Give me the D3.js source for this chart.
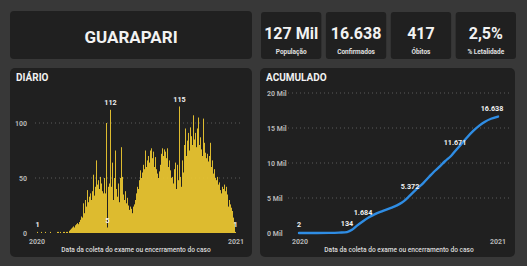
<!DOCTYPE html>
<html lang="pt">
<head>
<meta charset="UTF-8">
<title>Guarapari</title>
<style>
  body { margin: 0; padding: 0; background: #383838; }
  svg { display: block; font-family: Roboto, "DejaVu Sans", sans-serif; }
  .panel { fill: #202020; }
  .title { fill: #f2f2f2; font-weight: bold; }
  .tick-label { fill: #b5b5b5; font-size: 7px; font-weight: bold; }
  .data-label { fill: #f0f0f0; font-size: 7.2px; font-weight: bold; }
  .axis-title { fill: #dcdcdc; font-size: 6.6px; font-weight: 500; }
  .grid { stroke: #5a5a5a; stroke-dasharray: 1,3; }
</style>
</head>
<body>
<script src="https://cdn.jsdelivr.net/npm/d3@7/dist/d3.min.js"></script>
<script>
// KPI cards
var kpiValues = ['127 Mil', '16.638', '417', '2,5%'];
var kpiLabels = ['População', 'Confirmados', 'Óbitos', '% Letalidade'];

// daily new cases (one bar per sampled day, left to right)
var daily = [
  0, 1, 0, 0, 0, 1, 0, 0, 0, 1,
  0, 0, 0, 0, 1, 0, 0, 0, 0, 0,
  0, 1, 1, 0, 1, 0, 0, 1, 1, 0,
  1, 1, 0, 2, 3, 4, 5, 6, 5, 7,
  8, 9, 8, 10, 12, 15, 14, 27, 18, 30,
  24, 39, 28, 33, 36, 30, 38, 53, 34, 42,
  66, 44, 48, 40, 51, 45, 38, 36, 50, 36,
  100, 5, 42, 45, 112, 42, 64, 30, 50, 75,
  40, 33, 45, 28, 50, 78, 51, 35, 30, 38,
  27, 32, 25, 21, 24, 22, 18, 24, 26, 30,
  36, 42, 40, 48, 57, 50, 55, 62, 58, 75,
  60, 66, 70, 64, 75, 77, 68, 74, 60, 69,
  58, 54, 50, 56, 62, 72, 77, 70, 76, 74,
  68, 77, 60, 66, 57, 50, 51, 45, 58, 64,
  40, 62, 48, 115, 51, 42, 66, 55, 80, 95,
  70, 84, 91, 75, 96, 88, 80, 107, 85, 91,
  78, 95, 105, 80, 87, 76, 70, 104, 82, 73,
  68, 72, 65, 70, 82, 60, 66, 54, 58, 50,
  48, 51, 44, 46, 39, 36, 42, 40, 44, 38,
  42, 35, 24, 30, 26, 23, 20, 14, 10, 1
];
var dailyLabelIdx = [1, 71, 74, 143, 199];

// cumulative cases, [day index, total]
var cumDays = [0, 15, 30, 40, 48, 53, 58, 64, 70, 76, 84, 92, 98, 103, 107, 111, 117, 124, 130, 135, 140, 146, 152, 156, 162, 168, 174, 180, 186, 192, 199];
var cumValues = [2, 5, 20, 60, 134, 450, 1050, 1684, 2250, 2700, 3150, 3600, 3950, 4350, 4800, 5372, 6200, 7100, 8000, 8750, 9400, 10250, 11000, 11671, 12650, 13650, 14550, 15300, 15900, 16320, 16638];
var cumLabelIdx = [0, 4, 7, 15, 23, 30];

var dailyTicks = [0, 50, 100];
var cumTicks = [0, 5000, 10000, 15000, 20000];
var xLabels = ['2020', '2021'];
var xTitle = 'Data da coleta do exame ou encerramento do caso';

var svg = d3.select('body').append('svg')
  .attr('width', 527)
  .attr('height', 266);

svg.append('rect').attr('width', 527).attr('height', 266).attr('fill', '#383838');

// header panel
svg.append('rect').attr('class', 'panel')
  .attr('x', 10).attr('y', 11).attr('width', 242).attr('height', 48).attr('rx', 4);
svg.append('text').attr('class', 'title')
  .attr('x', 131).attr('y', 43)
  .attr('text-anchor', 'middle')
  .style('font-size', '17px')
  .text('GUARAPARI');

// KPI cards
var cardX = d3.scaleBand().domain(d3.range(kpiValues.length)).range([261, 516]).paddingInner(0.07);
var cards = svg.selectAll('g.kpi').data(kpiValues).enter().append('g')
  .attr('class', 'kpi')
  .attr('transform', function(d, i) { return 'translate(' + cardX(i) + ',12)'; });
cards.append('rect').attr('class', 'panel')
  .attr('width', cardX.bandwidth()).attr('height', 47).attr('rx', 3);
cards.append('text').attr('class', 'title')
  .attr('x', cardX.bandwidth() / 2).attr('y', 27)
  .attr('text-anchor', 'middle')
  .style('font-size', '16px')
  .text(function(d) { return d; });
cards.append('text')
  .attr('x', cardX.bandwidth() / 2).attr('y', 42)
  .attr('text-anchor', 'middle')
  .attr('fill', '#e0e0e0')
  .style('font-size', '6.5px').style('font-weight', 'bold')
  .text(function(d, i) { return kpiLabels[i]; });

// chart panels
svg.append('rect').attr('class', 'panel')
  .attr('x', 10).attr('y', 68).attr('width', 242).attr('height', 189).attr('rx', 5);
svg.append('rect').attr('class', 'panel')
  .attr('x', 260).attr('y', 68).attr('width', 255).attr('height', 189).attr('rx', 5);
svg.append('text').attr('class', 'title').attr('x', 16).attr('y', 81)
  .style('font-size', '10px').text('DIÁRIO');
svg.append('text').attr('class', 'title').attr('x', 266).attr('y', 81)
  .style('font-size', '10px').text('ACUMULADO');

// ---- daily bars
var xd = d3.scaleBand().domain(d3.range(daily.length)).range([36, 236]).padding(0);
var yd = d3.scaleLinear().domain([0, 100]).range([233, 123]);

var gd = svg.append('g');
gd.selectAll('line.grid').data(dailyTicks.slice(1)).enter().append('line')
  .attr('class', 'grid')
  .attr('x1', 35).attr('x2', 240)
  .attr('y1', function(d) { return yd(d); })
  .attr('y2', function(d) { return yd(d); });
gd.selectAll('text.tick-label').data(dailyTicks).enter().append('text')
  .attr('class', 'tick-label')
  .attr('x', 27).attr('y', function(d) { return yd(d) + 2.5; })
  .attr('text-anchor', 'end')
  .text(function(d) { return d; });

gd.selectAll('rect.bar').data(daily).enter().append('rect')
  .attr('class', 'bar')
  .attr('x', function(d, i) { return xd(i); })
  .attr('width', xd.bandwidth() * 0.95)
  .attr('y', function(d) { return yd(d); })
  .attr('height', function(d) { return yd(0) - yd(d); })
  .attr('fill', '#e8c531');

gd.selectAll('text.data-label').data(dailyLabelIdx).enter().append('text')
  .attr('class', 'data-label')
  .attr('x', function(i) { return xd(i) + xd.bandwidth() / 2; })
  .attr('y', function(i) { return yd(daily[i]) - 5; })
  .attr('text-anchor', 'middle')
  .text(function(i) { return daily[i]; });

gd.append('text').attr('class', 'tick-label').attr('x', 37).attr('y', 244)
  .attr('text-anchor', 'middle').text(xLabels[0]);
gd.append('text').attr('class', 'tick-label').attr('x', 236).attr('y', 244)
  .attr('text-anchor', 'middle').text(xLabels[1]);
gd.append('text').attr('class', 'axis-title').attr('x', 136).attr('y', 252)
  .attr('text-anchor', 'middle').text(xTitle);

// ---- cumulative line
var xc = d3.scaleLinear().domain([0, daily.length - 1]).range([299, 498]);
var yc = d3.scaleLinear().domain([0, 20000]).range([233, 93]);
var fmt = d3.formatLocale({ decimal: ',', thousands: '.', grouping: [3], currency: ['R$', ''] }).format(',');

var gc = svg.append('g');
gc.selectAll('line.grid').data(cumTicks.slice(1)).enter().append('line')
  .attr('class', 'grid')
  .attr('x1', 288).attr('x2', 510)
  .attr('y1', function(d) { return yc(d); })
  .attr('y2', function(d) { return yc(d); });
gc.selectAll('text.tick-label').data(cumTicks).enter().append('text')
  .attr('class', 'tick-label')
  .attr('x', 267).attr('y', function(d) { return yc(d) + 2.5; })
  .text(function(d) { return (d / 1000) + ' Mil'; });

var cum = cumDays.map(function(d, i) { return [d, cumValues[i]]; });
gc.append('path').datum(cum)
  .attr('fill', 'none')
  .attr('stroke', '#2f8de4')
  .attr('stroke-width', 2.4)
  .attr('stroke-linecap', 'round')
  .attr('d', d3.line()
    .x(function(d) { return xc(d[0]); })
    .y(function(d) { return yc(d[1]); })
    .curve(d3.curveCatmullRom.alpha(0.5)));

gc.selectAll('text.data-label').data(cumLabelIdx).enter().append('text')
  .attr('class', 'data-label')
  .attr('x', function(i) { return xc(cumDays[i]) + (i === cumLabelIdx[5] ? -6 : 0); })
  .attr('y', function(i) { return yc(cumValues[i]) - 6; })
  .attr('text-anchor', 'middle')
  .text(function(i) { return fmt(cumValues[i]); });

gc.append('text').attr('class', 'tick-label').attr('x', 300).attr('y', 244)
  .attr('text-anchor', 'middle').text(xLabels[0]);
gc.append('text').attr('class', 'tick-label').attr('x', 498).attr('y', 244)
  .attr('text-anchor', 'middle').text(xLabels[1]);
gc.append('text').attr('class', 'axis-title').attr('x', 399).attr('y', 252)
  .attr('text-anchor', 'middle').text(xTitle);
</script>
</body>
</html>
